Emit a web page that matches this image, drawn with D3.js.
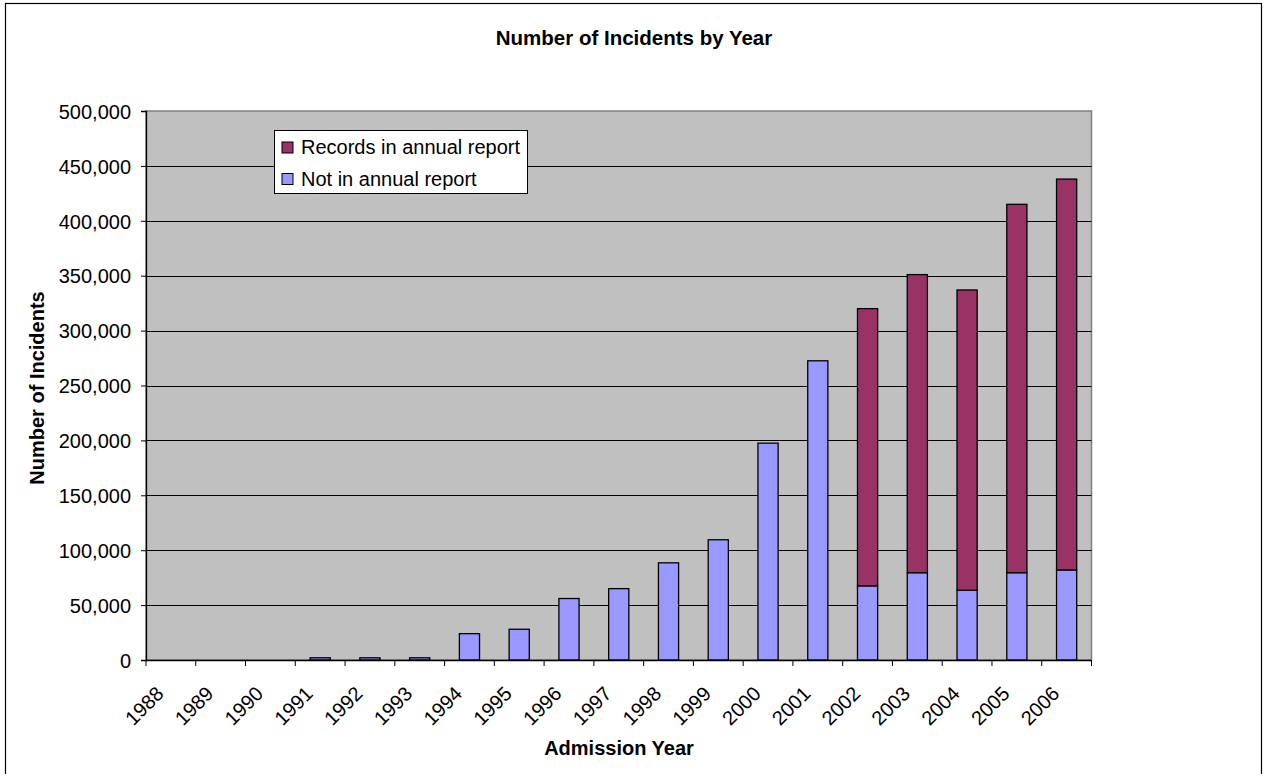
<!DOCTYPE html>
<html>
<head>
<meta charset="utf-8">
<script src="https://cdn.jsdelivr.net/npm/d3@7"></script>
<style>
  html, body { margin: 0; padding: 0; background: #fff; }
  svg text { font-family: "Liberation Sans", Arial, sans-serif; fill: #000; }
</style>
</head>
<body>
<svg id="chart" width="1265" height="774"></svg>
<script>
// Admission years (categories)
const years = ["1988","1989","1990","1991","1992","1993","1994","1995","1996","1997",
               "1998","1999","2000","2001","2002","2003","2004","2005","2006"];
// Incidents not included in the annual report
const notInReport = [0, 0, 0, 2000, 2000, 2000, 24000, 28000, 56000, 65000,
                     88500, 109500, 197500, 272500, 67500, 79500, 63500, 79500, 82000];
// Incidents recorded in the annual report
const inReport = [0, 0, 0, 0, 0, 0, 0, 0, 0, 0,
                  0, 0, 0, 0, 252500, 271500, 273500, 335500, 356000];
// Y axis tick values
const yTickValues = [0, 50000, 100000, 150000, 200000, 250000, 300000, 350000, 400000, 450000, 500000];

const seriesNames = ["Not in annual report", "Records in annual report"];
const seriesColors = { "Not in annual report": "#9999FF", "Records in annual report": "#993366" };

const svg = d3.select("#chart");

// outer chart frame
svg.append("rect")
  .attr("x", 5.5).attr("y", 3.5)
  .attr("width", 1256).attr("height", 780)
  .attr("fill", "#fff").attr("stroke", "#000").attr("stroke-width", 1.2);

const plot = { left: 146, right: 1091.5, top: 111, bottom: 660 };

const x = d3.scaleBand().domain(years).range([plot.left, plot.right]).padding(0);
const y = d3.scaleLinear().domain([0, 500000]).range([plot.bottom, plot.top]);

// plot area background
svg.append("rect")
  .attr("x", plot.left).attr("y", plot.top)
  .attr("width", plot.right - plot.left).attr("height", plot.bottom - plot.top)
  .attr("fill", "#C0C0C0").attr("stroke", "#808080").attr("stroke-width", 1.5);

// horizontal gridlines
svg.append("g")
  .selectAll("line")
  .data(yTickValues.filter(v => v > 0 && v < 500000))
  .join("line")
  .attr("x1", plot.left).attr("x2", plot.right)
  .attr("y1", d => Math.round(y(d)) + 0.5).attr("y2", d => Math.round(y(d)) + 0.5)
  .attr("stroke", "#000").attr("stroke-width", 1);

// stacked bars
const table = years.map((yr, i) => ({
  year: yr,
  "Not in annual report": notInReport[i],
  "Records in annual report": inReport[i]
}));
const stacked = d3.stack().keys(seriesNames)(table);
const barW = x.bandwidth() * 0.405;

svg.append("g")
  .selectAll("g")
  .data(stacked)
  .join("g")
  .attr("fill", d => seriesColors[d.key])
  .selectAll("rect")
  .data(d => d.filter(s => s[1] - s[0] > 0))
  .join("rect")
  .attr("x", d => x(d.data.year) + (x.bandwidth() - barW) / 2)
  .attr("width", barW)
  .attr("y", d => y(d[1]))
  .attr("height", d => y(d[0]) - y(d[1]))
  .attr("stroke", "#000").attr("stroke-width", 1.3);

// y axis
const yAxis = d3.axisLeft(y)
  .tickValues(yTickValues)
  .tickFormat(d3.format(","))
  .tickSize(5)
  .tickPadding(10);
const gy = svg.append("g")
  .attr("transform", `translate(${plot.left},0)`)
  .call(yAxis);
gy.select(".domain").attr("stroke", "#000").attr("stroke-width", 1.3);
gy.selectAll(".tick line").attr("stroke", "#000");
gy.selectAll(".tick text").attr("font-size", 20).attr("dy", "0.36em");

// x axis: ticks at category boundaries
const gx = svg.append("g");
gx.append("line")
  .attr("x1", plot.left).attr("x2", plot.right)
  .attr("y1", plot.bottom + 0.5).attr("y2", plot.bottom + 0.5)
  .attr("stroke", "#000").attr("stroke-width", 1.5);
gx.selectAll("line.tk")
  .data(years.concat(["end"]))
  .join("line")
  .attr("class", "tk")
  .attr("x1", (d, i) => plot.left + i * x.bandwidth())
  .attr("x2", (d, i) => plot.left + i * x.bandwidth())
  .attr("y1", plot.bottom).attr("y2", plot.bottom + 6)
  .attr("stroke", "#000");
gx.selectAll("text")
  .data(years)
  .join("text")
  .attr("transform", d => `translate(${x(d) + x.bandwidth() / 2 - 6},695) rotate(-45)`)
  .attr("text-anchor", "end")
  .attr("font-size", 20)
  .text(d => d);

// titles
svg.append("text")
  .attr("x", 634).attr("y", 45)
  .attr("text-anchor", "middle")
  .attr("font-size", 20.5).attr("font-weight", "bold")
  .text("Number of Incidents by Year");

svg.append("text")
  .attr("x", 619).attr("y", 755)
  .attr("text-anchor", "middle")
  .attr("font-size", 20).attr("font-weight", "bold")
  .text("Admission Year");

svg.append("text")
  .attr("transform", "translate(44,388) rotate(-90)")
  .attr("text-anchor", "middle")
  .attr("font-size", 20).attr("font-weight", "bold")
  .text("Number of Incidents");

// legend
const legend = svg.append("g");
legend.append("rect")
  .attr("x", 274.5).attr("y", 130.5)
  .attr("width", 253).attr("height", 63)
  .attr("fill", "#fff").attr("stroke", "#000").attr("stroke-width", 1);
const legendItems = ["Records in annual report", "Not in annual report"];
legend.selectAll("g.item")
  .data(legendItems)
  .join("g")
  .attr("class", "item")
  .attr("transform", (d, i) => `translate(0,${i * 31.5})`)
  .each(function (d) {
    const g = d3.select(this);
    g.append("rect")
      .attr("x", 282).attr("y", 142)
      .attr("width", 11).attr("height", 11)
      .attr("fill", seriesColors[d]).attr("stroke", "#000").attr("stroke-width", 1);
    g.append("text")
      .attr("x", 301).attr("y", 154.3)
      .attr("font-size", 20)
      .text(d);
  });
</script>
</body>
</html>
